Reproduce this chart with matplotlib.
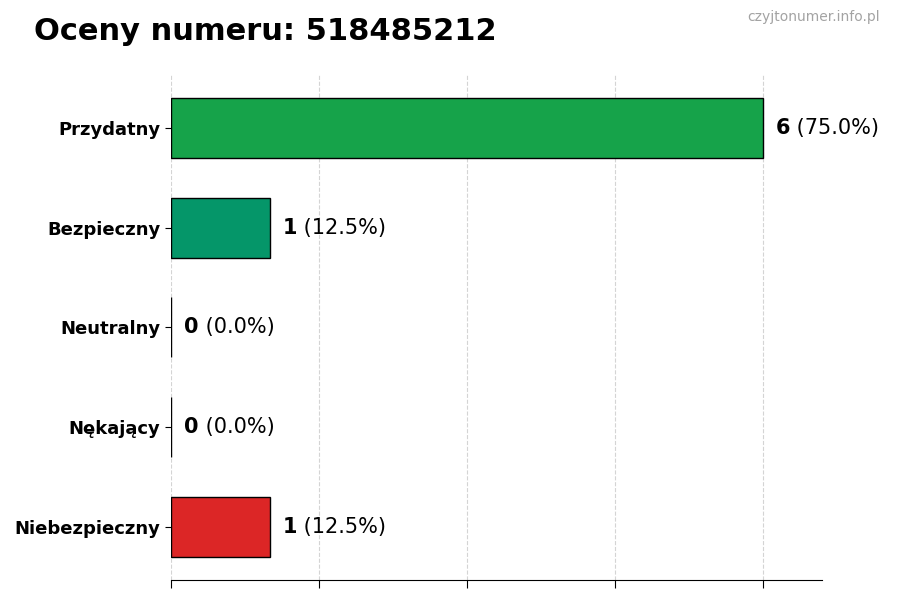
import matplotlib
matplotlib.use("Agg")
from matplotlib import pyplot as plt

# data
categories = ["Przydatny", "Bezpieczny", "Neutralny", "Nękający", "Niebezpieczny"]
counts = [6, 1, 0, 0, 1]
colors = ["#16a34a", "#059669", "#9ca3af", "#f97316", "#dc2626"]
number = "518485212"

total = sum(counts)

fig = plt.figure(figsize=(9, 6), dpi=100)
ax = fig.add_axes([0.19, 0.0333, 0.723, 0.842])

ypos = list(range(len(categories)))
ax.barh(ypos, counts, height=0.6, color=colors, edgecolor="black", linewidth=1, zorder=3)
ax.set_yticks(ypos)
ax.set_yticklabels(categories, fontsize=13, fontweight="bold")
ax.invert_yaxis()

xmax = max(counts) * 1.1
ax.set_xlim(0, xmax)
ax.set_xticks([i * max(counts) / 4 for i in range(5)])
ax.set_xticklabels([])
ax.grid(axis="x", linestyle="--", color="#d4d4d4", linewidth=0.8, zorder=0)

for side in ["top", "right", "left"]:
    ax.spines[side].set_visible(False)
ax.tick_params(axis="x", length=6)
ax.tick_params(axis="y", length=4)

# value labels: bold count then normal percentage
for y, c in zip(ypos, counts):
    pct = c / total * 100
    t1 = ax.text(c + xmax * 0.02, y, str(c), fontsize=15, fontweight="bold",
                 va="center", ha="left")
    ax.annotate(" (%.1f%%)" % pct, xy=(1, 0.5), xycoords=t1,
                fontsize=15, va="center", ha="left")

fig.text(0.038, 0.948, "Oceny numeru: " + number, fontsize=22, fontweight="bold",
         va="center", ha="left")
fig.text(0.978, 0.971, "czyjtonumer.info.pl", fontsize=10, color="#a3a3a3",
         va="center", ha="right")

fig.savefig("out.png", dpi=100)
